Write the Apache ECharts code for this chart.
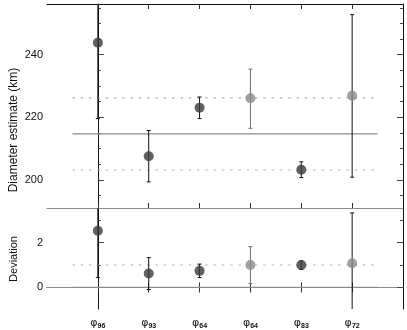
<!DOCTYPE html>
<html><head><meta charset="utf-8">
<script src="https://cdn.jsdelivr.net/npm/echarts@6/dist/echarts.min.js"></script>
<style>html,body{margin:0;padding:0;background:#fff}#c{width:407px;height:330px}</style>
</head><body><div id="c"></div>
<script>
// ---- data ----
var subs = ['96', '93', '64', '64', '83', '72'];
var diam = [243.8, 207.6, 223.1, 226.1, 203.3, 226.9];
var diamLo = [219.6, 199.4, 219.6, 216.5, 200.8, 200.9];
var diamHi = [268.0, 215.8, 226.5, 235.4, 205.8, 252.8];
var dev = [2.53, 0.62, 0.74, 1.0, 1.0, 1.08];
var devLo = [0.44, -0.09, 0.44, 0.18, 0.8, -1.16];
var devHi = [4.62, 1.33, 1.04, 1.82, 1.18, 3.32];
var isGrey = [0, 0, 0, 1, 0, 1];
var barGrey = [0, 0, 0, 1, 0, 0];
var diamMean = 214.7, diamBandHi = 226.2, diamBandLo = 203.2;
var devZero = 0, devRef = 1;
var diamTicksMajor = [200, 220, 240];
var diamTicksMinor = [195, 205, 210, 215, 225, 230, 235, 245, 250, 255];
var devTicksMajor = [0, 2];
var devTicksMinor = [-1, 1, 3];
var xIdx = [0, 1, 2, 3, 4, 5];

var DARK = '#3a3a3a', GREY = '#8a8a8a', BARD = '#111', BARG = '#707070';
var FONT = 'Liberation Sans';
var yMin0 = 191.06, yMax0 = 256.2, yMin1 = -0.96, yMax1 = 3.54;

function pts(v) { return v.map(function (y, i) { return { value: [i, y], itemStyle: { color: isGrey[i] ? GREY : DARK } }; }); }
function errData(c, lo, hi) { return c.map(function (y, i) { return [i, lo[i], hi[i], barGrey[i]]; }); }
function errSeries(xi, yi, data) {
  return {
    type: 'custom', xAxisIndex: xi, yAxisIndex: yi, data: data, clip: true, z: 3,
    renderItem: function (params, api) {
      var x = api.value(0), lo = api.value(1), hi = api.value(2), g = api.value(3);
      var p1 = api.coord([x, lo]), p2 = api.coord([x, hi]);
      var col = g ? BARG : BARD;
      var st = { stroke: col, lineWidth: 1 };
      return {
        type: 'group', children: [
          { type: 'line', shape: { x1: p1[0], y1: p1[1], x2: p2[0], y2: p2[1] }, style: st },
          { type: 'line', shape: { x1: p1[0] - 2, y1: p1[1], x2: p1[0] + 2, y2: p1[1] }, style: st },
          { type: 'line', shape: { x1: p2[0] - 2, y1: p2[1], x2: p2[0] + 2, y2: p2[1] }, style: st }
        ]
      };
    }
  };
}
function hline(xi, yi, v, dashed) {
  return {
    type: 'line', xAxisIndex: xi, yAxisIndex: yi, data: [[-0.5, v], [5.5, v]], symbol: 'none', silent: true, z: 1,
    lineStyle: dashed ? { color: '#b4b4b4', width: 1.2, type: [2.5, 5.8] } : { color: '#8c8c8c', width: 1.2 }
  };
}
function xAx(grid, pos, lineCol, labels) {
  return {
    type: 'value', gridIndex: grid, position: pos, min: -1, max: 6,
    axisLine: { show: true, lineStyle: { color: lineCol, width: 1 } },
    axisTick: { show: true, inside: true, length: 5, customValues: xIdx, lineStyle: { color: '#333' } },
    axisLabel: labels ? {
      show: true, customValues: xIdx, margin: 7,
      formatter: function (v) { return '{p|φ}{s|' + subs[v] + '}'; },
      rich: {
        p: { fontFamily: 'DejaVu Sans', fontSize: 11, color: '#111', lineHeight: 14 },
        s: { fontFamily: FONT, fontSize: 7, fontWeight: 'bold', color: '#111', padding: [6, 0, 0, 0] }
      }
    } : { show: false },
    splitLine: { show: false }
  };
}
function yAx(grid, pos, min, max, vals, len, showLine, labels) {
  return {
    type: 'value', gridIndex: grid, position: pos, min: min, max: max,
    axisLine: { show: showLine, lineStyle: { color: '#111', width: 1 } },
    axisTick: { show: true, inside: true, length: len, customValues: vals, lineStyle: { color: '#444' } },
    axisLabel: labels ? { show: true, customValues: vals, margin: 4, fontFamily: FONT, fontSize: 11, color: '#111' } : { show: false },
    splitLine: { show: false }
  };
}

var chart = echarts.init(document.getElementById('c'), null, { renderer: 'canvas' });
chart.setOption({
  animation: false,
  backgroundColor: '#fff',
  grid: [
    { left: 47, right: 4, top: 4, height: 204 },
    { left: 47, right: 4, top: 208, height: 101 }
  ],
  xAxis: [
    xAx(0, 'bottom', '#8c8c8c', false),
    xAx(0, 'top', '#111', false),
    xAx(1, 'bottom', '#111', true),
    xAx(1, 'top', '#8c8c8c', false)
  ],
  yAxis: [
    yAx(0, 'left', yMin0, yMax0, diamTicksMajor, 6, true, true),
    yAx(0, 'left', yMin0, yMax0, diamTicksMinor, 3, false, false),
    yAx(0, 'right', yMin0, yMax0, diamTicksMajor, 6, true, false),
    yAx(0, 'right', yMin0, yMax0, diamTicksMinor, 3, false, false),
    yAx(1, 'left', yMin1, yMax1, devTicksMajor, 6, true, true),
    yAx(1, 'left', yMin1, yMax1, devTicksMinor, 3, false, false),
    yAx(1, 'right', yMin1, yMax1, devTicksMajor, 6, true, false),
    yAx(1, 'right', yMin1, yMax1, devTicksMinor, 3, false, false)
  ],
  series: [
    hline(0, 0, diamMean, false),
    hline(0, 0, diamBandHi, true),
    hline(0, 0, diamBandLo, true),
    hline(2, 4, devZero, false),
    hline(2, 4, devRef, true),
    errSeries(0, 0, errData(diam, diamLo, diamHi)),
    errSeries(2, 4, errData(dev, devLo, devHi)),
    { type: 'scatter', xAxisIndex: 0, yAxisIndex: 0, symbolSize: 10, data: pts(diam), z: 4 },
    { type: 'scatter', xAxisIndex: 2, yAxisIndex: 4, symbolSize: 10, data: pts(dev), z: 4 }
  ],
  graphic: [
    { type: 'text', x: 14, y: 130, rotation: Math.PI / 2,
      style: { text: 'Diameter estimate (km)', font: '12px "Liberation Sans"', fill: '#111', align: 'center', verticalAlign: 'middle', textAlign: 'center', textVerticalAlign: 'middle' } },
    { type: 'text', x: 14, y: 259, rotation: Math.PI / 2,
      style: { text: 'Deviation', font: '11px "Liberation Sans"', fill: '#111', align: 'center', verticalAlign: 'middle', textAlign: 'center', textVerticalAlign: 'middle' } }
  ]
});
</script></body></html>
